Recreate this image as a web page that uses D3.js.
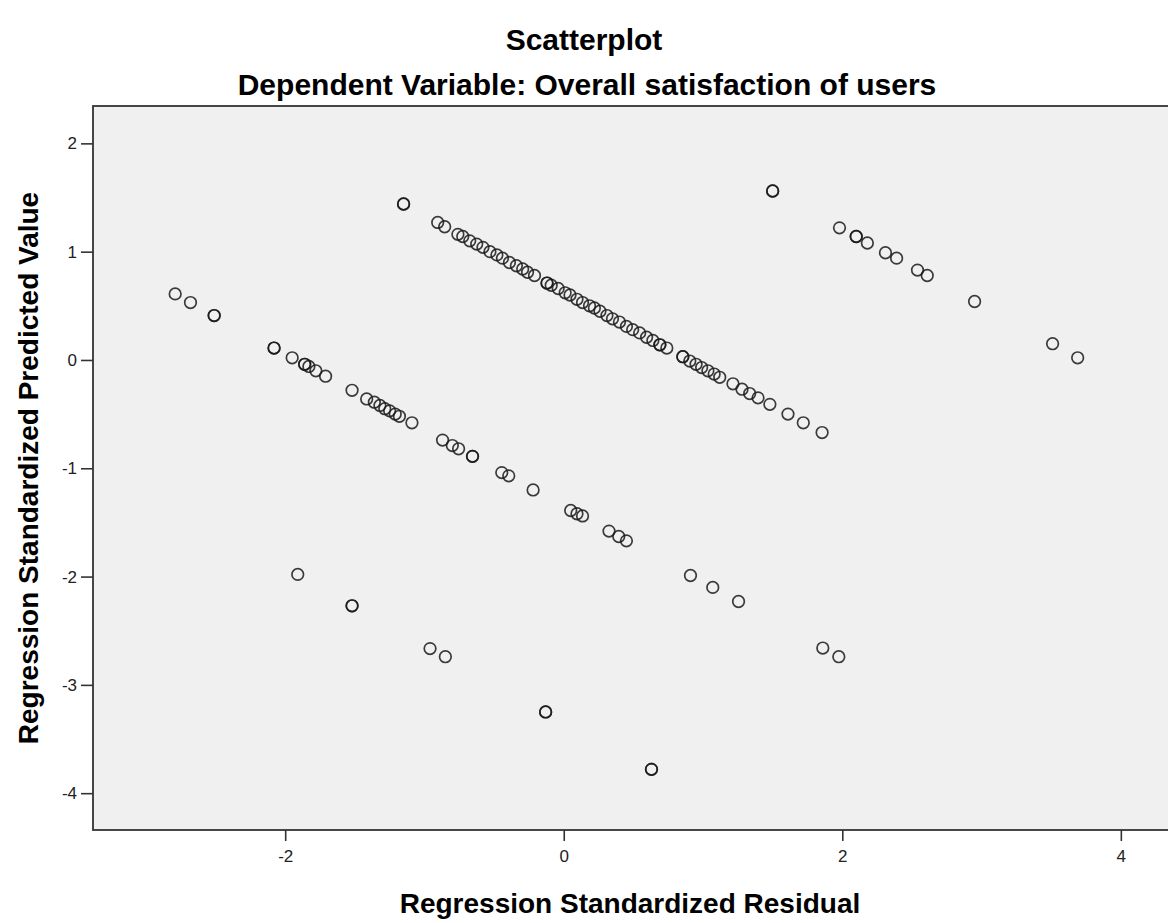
<html>
<head>
	<meta http-equiv="Content-Type" content="text/html;charset=UTF-8">
	<title>Scatterplot</title>
    <style type="text/css">
        *{margin: 0;padding: 0;}
        body{background: #fff;}
        svg{display: block;}
    </style>
</head>
<body>
    <div class="container"></div>
	<script type="text/javascript" src="https://cdn.jsdelivr.net/npm/d3@7/dist/d3.min.js"></script>

	<script>
        // data: x = standardized residual, y = standardized predicted value
        var residual = [
            1.50, 1.50, 1.98, 2.10, 2.10, 2.18, 2.31, 2.39, 2.54, 2.61, 2.95, 3.51, 3.69,
            -1.15, -1.15, -0.905, -0.855, -0.76, -0.725, -0.675, -0.625, -0.58, -0.53, -0.48, -0.44,
            -0.39, -0.34, -0.295, -0.26, -0.21, -0.12, -0.12, -0.09, -0.04, 0.01, 0.045, 0.095,
            0.135, 0.185, 0.22, 0.26, 0.31, 0.35, 0.40, 0.45, 0.495, 0.545, 0.595, 0.64, 0.69, 0.69,
            0.74, 0.855, 0.855, 0.905, 0.95, 0.99, 1.035, 1.08, 1.12, 1.215, 1.28, 1.335, 1.395,
            1.48, 1.61, 1.72, 1.855,
            -2.79, -2.68, -2.51, -2.51, -2.08, -2.08, -1.95, -1.86, -1.86, -1.83, -1.78, -1.71,
            -1.52, -1.415, -1.36, -1.32, -1.285, -1.25, -1.21, -1.18, -1.09, -0.87, -0.80, -0.755,
            -0.655, -0.655, -0.445, -0.395, -0.22, 0.05, 0.095, 0.135, 0.325, 0.395, 0.45,
            0.91, 1.07, 1.255, 1.86, 1.975,
            -1.91, -1.52, -1.52, -0.96, -0.85, -0.13, -0.13, 0.63, 0.63
        ];
        var predicted = [
            1.56, 1.56, 1.22, 1.14, 1.14, 1.08, 0.99, 0.94, 0.83, 0.78, 0.54, 0.15, 0.02,
            1.44, 1.44, 1.27, 1.23, 1.16, 1.14, 1.10, 1.07, 1.04, 1.00, 0.97, 0.94,
            0.90, 0.87, 0.84, 0.81, 0.78, 0.71, 0.71, 0.69, 0.66, 0.62, 0.60, 0.56,
            0.53, 0.50, 0.48, 0.45, 0.41, 0.38, 0.35, 0.31, 0.28, 0.25, 0.21, 0.18, 0.14, 0.14,
            0.11, 0.03, 0.03, -0.01, -0.04, -0.07, -0.10, -0.13, -0.16, -0.22, -0.27, -0.31, -0.35,
            -0.41, -0.50, -0.58, -0.67,
            0.61, 0.53, 0.41, 0.41, 0.11, 0.11, 0.02, -0.04, -0.04, -0.06, -0.10, -0.15,
            -0.28, -0.36, -0.39, -0.42, -0.45, -0.47, -0.50, -0.52, -0.58, -0.74, -0.79, -0.82,
            -0.89, -0.89, -1.04, -1.07, -1.20, -1.39, -1.42, -1.44, -1.58, -1.63, -1.67,
            -1.99, -2.10, -2.23, -2.66, -2.74,
            -1.98, -2.27, -2.27, -2.665, -2.74, -3.25, -3.25, -3.78, -3.78
        ];
        var xTicks = [-2, 0, 2, 4];
        var yTicks = [2, 1, 0, -1, -2, -3, -4];

        var title = "Scatterplot";
        var subtitle = "Dependent Variable: Overall satisfaction of users";
        var xTitle = "Regression Standardized Residual";
        var yTitle = "Regression Standardized Predicted Value";

	    var width = 1168;   //画布的宽度
        var height = 923;   //画布的高度
        // plot frame (top/left are window globals, so prefixed names)
        var plotLeft = 93, plotTop = 106, plotRight = 1170, plotBottom = 830;
        var font = "'Liberation Sans', Arial, sans-serif";

        var svg = d3.select(".container")
            .append("svg")
            .attr("width", width)
            .attr("height", height)
            .style("font-family", font);

        var x = d3.scaleLinear()
                .domain([-3.38, 4.353])
                .range([plotLeft, plotRight]);
        var y = d3.scaleLinear()
                .domain([-4.34, 2.345])
                .range([plotBottom, plotTop]);

        // plot background
        svg.append("rect")
            .attr("x", plotLeft)
            .attr("y", plotTop)
            .attr("width", plotRight - plotLeft)
            .attr("height", plotBottom - plotTop)
            .attr("fill", "#f0f0f0")
            .attr("stroke", "#333")
            .attr("stroke-width", 1.8);

        var fmt = function(d){ return String(d); };   // plain hyphen for negatives

        // axes
        var xAxis = svg.append("g")
            .attr("transform", "translate(0," + plotBottom + ")")
            .call(d3.axisBottom(x).tickValues(xTicks).tickSize(11).tickPadding(9).tickFormat(fmt));
        var yAxis = svg.append("g")
            .attr("transform", "translate(" + plotLeft + ",0)")
            .call(d3.axisLeft(y).tickValues(yTicks).tickSize(12).tickPadding(4).tickFormat(fmt));

        [xAxis, yAxis].forEach(function(g){
            g.select(".domain").remove();
            g.selectAll("line").attr("stroke", "#333").attr("stroke-width", 1.6);
            g.selectAll("text")
                .attr("fill", "#222")
                .style("font-size", "17px")
                .style("font-family", font);
        });

        // points
        var points = residual.map(function(d, i){ return [d, predicted[i]]; });
        svg.append("g").selectAll("circle")
            .data(points)
            .enter()
            .append("circle")
            .attr("cx", function(d){ return x(d[0]); })
            .attr("cy", function(d){ return y(d[1]); })
            .attr("r", 5.8)
            .attr("fill", "none")
            .attr("stroke", "#1a1a1a")
            .attr("stroke-width", 1.7)
            .attr("stroke-opacity", 0.85);

        // titles
        svg.append("text")
            .attr("x", 584).attr("y", 50)
            .attr("text-anchor", "middle")
            .style("font-size", "30px").style("font-weight", "bold")
            .text(title);
        svg.append("text")
            .attr("x", 587).attr("y", 95)
            .attr("text-anchor", "middle")
            .style("font-size", "30px").style("font-weight", "bold")
            .text(subtitle);
        svg.append("text")
            .attr("x", (plotLeft + 1167) / 2).attr("y", 913)
            .attr("text-anchor", "middle")
            .style("font-size", "28px").style("font-weight", "bold")
            .text(xTitle);
        svg.append("text")
            .attr("transform", "translate(38," + ((plotTop + plotBottom) / 2) + ") rotate(-90)")
            .attr("text-anchor", "middle")
            .style("font-size", "28px").style("font-weight", "bold")
            .text(yTitle);
    </script>
</body>
</html>
